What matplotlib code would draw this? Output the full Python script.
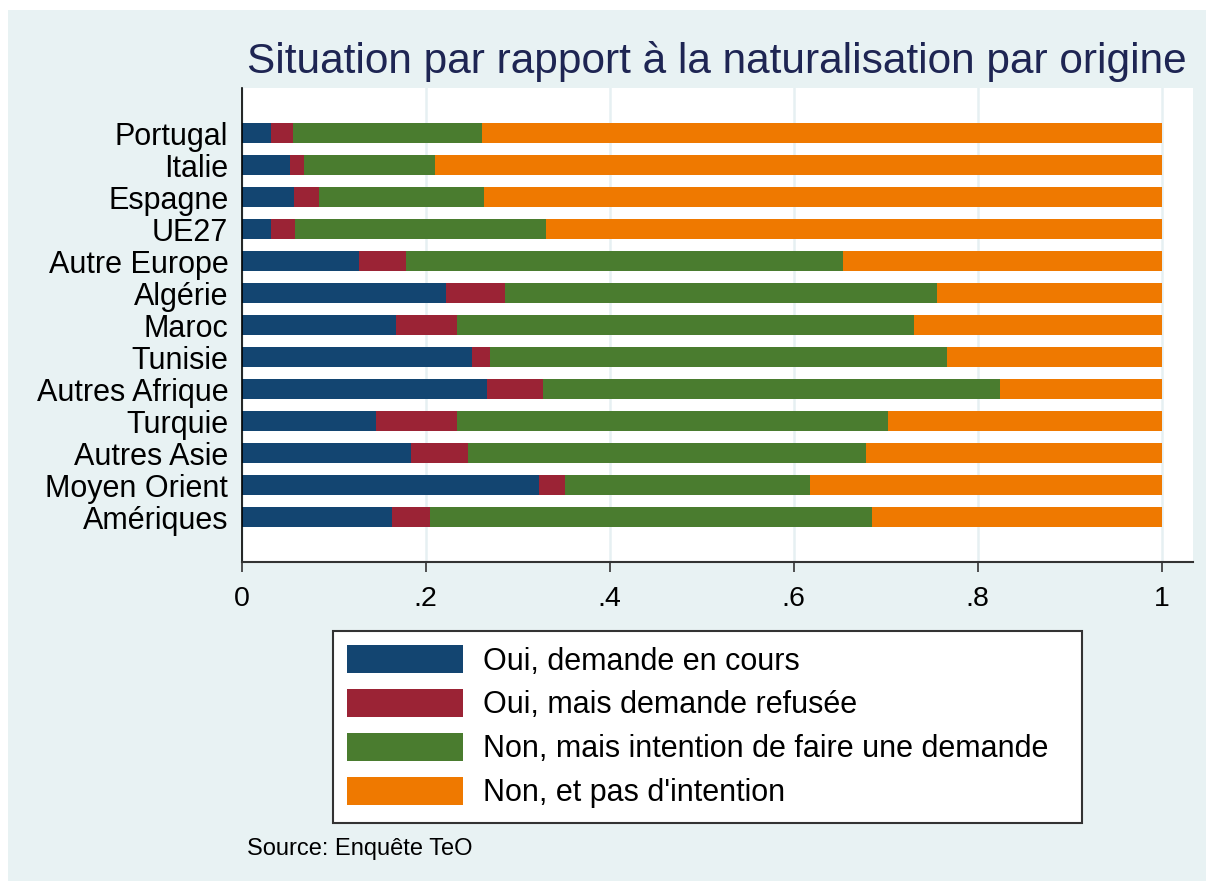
import numpy as np
import matplotlib
matplotlib.use("Agg")
import matplotlib.pyplot as plt
from matplotlib.patches import Rectangle

plt.rcParams['font.family'] = ['Liberation Sans', 'DejaVu Sans']

# data (shares per origin, sum to 1)
origines = ["Portugal", "Italie", "Espagne", "UE27", "Autre Europe", "Algérie", "Maroc",
            "Tunisie", "Autres Afrique", "Turquie", "Autres Asie", "Moyen Orient", "Amériques"]
demande_en_cours = [0.032, 0.053, 0.057, 0.032, 0.128, 0.222, 0.168, 0.251, 0.267, 0.146, 0.184, 0.323, 0.164]
demande_refusee = [0.024, 0.015, 0.027, 0.026, 0.051, 0.064, 0.066, 0.019, 0.061, 0.088, 0.062, 0.029, 0.041]
intention = [0.205, 0.142, 0.180, 0.273, 0.475, 0.470, 0.497, 0.497, 0.496, 0.469, 0.433, 0.266, 0.480]
pas_intention = [0.739, 0.790, 0.736, 0.669, 0.346, 0.244, 0.269, 0.233, 0.176, 0.297, 0.321, 0.382, 0.315]

labels = ["Oui, demande en cours", "Oui, mais demande refusée",
          "Non, mais intention de faire une demande", "Non, et pas d'intention"]
colors = ["#134571", "#9b2335", "#4a7c2f", "#ef7900"]
xticks = [0, 0.2, 0.4, 0.6, 0.8, 1]
xticklabels = ["0", ".2", ".4", ".6", ".8", "1"]

fig = plt.figure(figsize=(12.06, 8.81), dpi=100)
fig.patch.set_facecolor("white")
# stata-like light background panel
fig.add_artist(Rectangle((8 / 1206, 0), 1, (881 - 10) / 881, transform=fig.transFigure,
                         facecolor="#e8f2f3", edgecolor="none", zorder=-1))

ax = fig.add_axes([241.5 / 1206, (881 - 562) / 881, (1193 - 241.5) / 1206, (562 - 88) / 881])
ax.set_facecolor("white")

y = np.arange(len(origines))
left = np.zeros(len(origines))
for vals, lab, col in zip([demande_en_cours, demande_refusee, intention, pas_intention], labels, colors):
    ax.barh(y, vals, left=left, height=0.625, color=col, label=lab, linewidth=0)
    left = left + np.array(vals)

ax.set_xlim(0, 1.034)
ax.set_ylim(13.4, -1.42)
ax.set_yticks(y)
ax.set_yticklabels(origines, fontsize=22)
ax.tick_params(axis="y", length=0, pad=9.5)
ax.set_xticks(xticks)
ax.set_xticklabels(xticklabels, fontsize=20.5)
ax.tick_params(axis="x", length=7.5, width=1.2, color="#333333", pad=10)

ax.grid(axis="x", color="#e6f0f2", linewidth=1.8)
ax.set_axisbelow(True)
ax.spines["top"].set_visible(False)
ax.spines["right"].set_visible(False)
ax.spines["left"].set_color("black")
ax.spines["left"].set_linewidth(1.2)
ax.spines["bottom"].set_color("#333333")
ax.spines["bottom"].set_linewidth(1.5)

# title centered over the plot region
fig.text(717 / 1206, (881 - 73) / 881, "Situation par rapport à la naturalisation par origine",
         ha="center", va="baseline", fontsize=30.5, color="#1e2553")

leg = fig.legend(loc="upper left", bbox_to_anchor=(333 / 1206, (881 - 631) / 881, (1082 - 333) / 1206, 0),
                 mode="expand", ncol=1, fontsize=22, frameon=True, fancybox=False,
                 edgecolor="#333333", framealpha=1, handlelength=3.8, handleheight=1.0,
                 handletextpad=0.64, borderpad=0.47, labelspacing=0.42, borderaxespad=0)
leg.get_frame().set_linewidth(1.5)

fig.text(247 / 1206, (881 - 855) / 881, "Source: Enquête TeO", fontsize=17, va="baseline")

fig.savefig("out.png", dpi=100)
